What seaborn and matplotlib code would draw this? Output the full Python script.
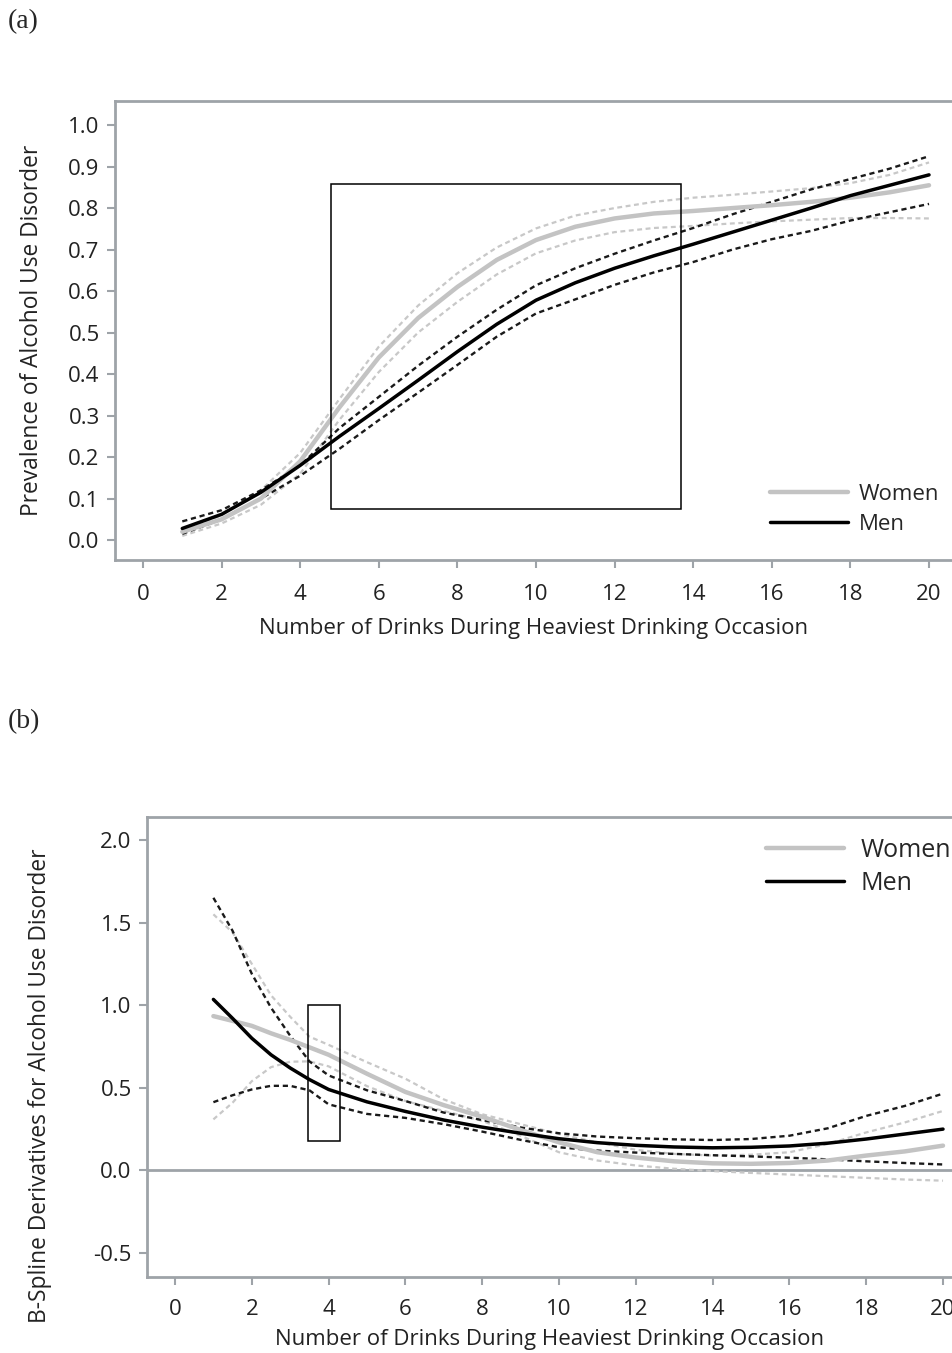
import numpy as np
import pandas as pd
import matplotlib
matplotlib.use("Agg")
import matplotlib.pyplot as plt
from matplotlib.patches import Rectangle
from matplotlib.lines import Line2D
import seaborn as sns

# ---------------- data: panel (a) ----------------
drinks_a = [1, 2, 3, 4, 5, 6, 7, 8, 9, 10, 11, 12, 13, 14, 15, 16, 17, 18, 19, 20]
women_a = [0.02, 0.05, 0.10, 0.19, 0.32, 0.44, 0.535, 0.61, 0.675, 0.723, 0.755, 0.775, 0.787,
           0.793, 0.80, 0.807, 0.815, 0.825, 0.838, 0.855]
women_a_hi = [0.025, 0.06, 0.12, 0.21, 0.34, 0.466, 0.565, 0.643, 0.705, 0.751, 0.782, 0.80, 0.815,
              0.825, 0.832, 0.84, 0.848, 0.86, 0.88, 0.91]
women_a_lo = [0.01, 0.04, 0.085, 0.16, 0.29, 0.405, 0.50, 0.574, 0.64, 0.691, 0.722, 0.742, 0.752,
              0.757, 0.763, 0.768, 0.772, 0.776, 0.776, 0.775]
men_a = [0.028, 0.062, 0.115, 0.18, 0.25, 0.317, 0.385, 0.454, 0.52, 0.578, 0.62, 0.655, 0.685,
         0.713, 0.742, 0.771, 0.80, 0.83, 0.855, 0.88]
men_a_hi = [0.045, 0.072, 0.12, 0.18, 0.27, 0.345, 0.42, 0.49, 0.555, 0.614, 0.655, 0.69, 0.722,
            0.752, 0.785, 0.815, 0.845, 0.87, 0.895, 0.925]
men_a_lo = [0.015, 0.05, 0.10, 0.155, 0.22, 0.289, 0.355, 0.422, 0.49, 0.546, 0.58, 0.615, 0.645,
            0.67, 0.70, 0.725, 0.745, 0.77, 0.79, 0.81]

# ---------------- data: panel (b) ----------------
drinks_b = [1, 1.5, 2, 2.5, 3, 3.5, 4, 5, 6, 7, 8, 9, 10, 11, 12, 13, 14, 15, 16, 17, 18, 19, 20]
women_b = [0.934, 0.905, 0.875, 0.83, 0.79, 0.745, 0.70, 0.585, 0.475, 0.395, 0.325, 0.245, 0.17,
           0.11, 0.078, 0.055, 0.043, 0.04, 0.045, 0.06, 0.09, 0.115, 0.15]
women_b_hi = [1.55, 1.44, 1.25, 1.06, 0.93, 0.81, 0.76, 0.655, 0.555, 0.43, 0.34, 0.28, 0.22,
              0.17, 0.125, 0.10, 0.09, 0.095, 0.11, 0.16, 0.23, 0.29, 0.36]
women_b_lo = [0.309, 0.41, 0.54, 0.625, 0.658, 0.66, 0.63, 0.51, 0.42, 0.36, 0.30, 0.21, 0.11,
              0.06, 0.03, 0.01, -0.004, -0.015, -0.025, -0.035, -0.045, -0.055, -0.062]
men_b = [1.035, 0.92, 0.80, 0.70, 0.62, 0.55, 0.49, 0.415, 0.357, 0.305, 0.262, 0.225, 0.192,
         0.168, 0.152, 0.142, 0.137, 0.14, 0.148, 0.165, 0.19, 0.22, 0.25]
men_b_hi = [1.65, 1.45, 1.19, 0.985, 0.815, 0.66, 0.575, 0.485, 0.42, 0.35, 0.305, 0.26, 0.225,
            0.205, 0.195, 0.188, 0.184, 0.19, 0.21, 0.255, 0.33, 0.39, 0.465]
men_b_lo = [0.413, 0.455, 0.49, 0.512, 0.512, 0.485, 0.40, 0.342, 0.318, 0.28, 0.235, 0.185, 0.14,
            0.12, 0.108, 0.10, 0.092, 0.085, 0.077, 0.067, 0.055, 0.045, 0.036]

rect_a = (4.78, 0.075, 13.68, 0.858)   # x0, y0, x1, y1
rect_b = (3.46, 0.176, 4.30, 0.999)

legend_labels = ["Women", "Men"]
xlabel = "Number of Drinks During Heaviest Drinking Occasion"
ylabel_a = "Prevalence of Alcohol Use Disorder"
ylabel_b = "B-Spline Derivatives for Alcohol Use Disorder"

# ---------------- style ----------------
sns.set_style("white")
plt.rcParams["font.family"] = ["Open Sans", "DejaVu Sans"]
SPINE = "#9ea3a8"
GRAY = "#c3c3c3"
GRAYD = "#c8c8c8"
BLACK = "#000000"
FS = 16

W, H = 953, 1353
fig = plt.figure(figsize=(W / 100, H / 100), dpi=100)


def px_axes(left, top, right, bottom):
    return fig.add_axes([left / W, 1 - bottom / H, (right - left) / W, (bottom - top) / H])


def draw_panel(ax, x, series, xlim, ylim, yticks, ylabel, rect, legend_anchor, legend_fs,
               ylabel_xy, tickpad, xlabelpad, lspacing, ltextpad):
    (w, whi, wlo, m, mhi, mlo) = series
    df = pd.DataFrame({"x": x, "w": w, "whi": whi, "wlo": wlo, "m": m, "mhi": mhi, "mlo": mlo})
    dash = (0, (2.2, 1.6))
    for col in ["whi", "wlo"]:
        sns.lineplot(data=df, x="x", y=col, ax=ax, color=GRAYD, lw=1.6, linestyle=dash, zorder=2)
    for col in ["mhi", "mlo"]:
        sns.lineplot(data=df, x="x", y=col, ax=ax, color="#1a1a1a", lw=1.7, linestyle=dash, zorder=3)
    sns.lineplot(data=df, x="x", y="w", ax=ax, color=GRAY, lw=3.2, zorder=4)
    sns.lineplot(data=df, x="x", y="m", ax=ax, color=BLACK, lw=2.5, zorder=5)

    x0, y0, x1, y1 = rect
    ax.add_patch(Rectangle((x0, y0), x1 - x0, y1 - y0, fill=False, ec="black", lw=1.1, zorder=6))

    ax.set_xlim(*xlim)
    ax.set_ylim(*ylim)
    ax.set_xticks(range(0, 21, 2))
    ax.set_yticks(yticks)
    ax.set_yticklabels([f"{t:.1f}" for t in yticks])
    ax.tick_params(axis="both", which="major", direction="out", length=6, width=1.5,
                   color=SPINE, labelsize=FS, labelcolor="#222222", pad=5, left=True, bottom=True)
    ax.tick_params(axis="x", pad=tickpad)
    for s in ["left", "bottom", "top"]:
        ax.spines[s].set_color(SPINE)
        ax.spines[s].set_linewidth(2)
    ax.spines["right"].set_visible(False)
    ax.set_xlabel(xlabel, fontsize=FS, color="#222222", labelpad=xlabelpad)
    ax.set_ylabel(ylabel, fontsize=16.4, color="#222222")
    ax.yaxis.set_label_coords(*ylabel_xy)

    handles = [Line2D([], [], color=GRAY, lw=3.2), Line2D([], [], color=BLACK, lw=2.5)]
    fig.legend(handles, legend_labels, loc="upper left",
               bbox_to_anchor=(legend_anchor[0] / W, 1 - legend_anchor[1] / H),
               bbox_transform=fig.transFigure, frameon=False, fontsize=legend_fs,
               handlelength=78 / (legend_fs * 100 / 72), handletextpad=ltextpad,
               labelspacing=lspacing, borderpad=0, borderaxespad=0)


# panel (a)
ax1 = px_axes(115, 101, 953, 560)
draw_panel(ax1, drinks_a, (women_a, women_a_hi, women_a_lo, men_a, men_a_hi, men_a_lo),
           (-0.712, 20.61), (-0.048, 1.058), [round(v * 0.1, 1) for v in range(11)],
           ylabel_a, rect_a, (770, 484), 16, (-0.085, 0.5), 11, 10, 0.4, 0.5)

# panel (b)
ax2 = px_axes(147, 817, 953, 1277)
draw_panel(ax2, drinks_b, (women_b, women_b_hi, women_b_lo, men_b, men_b_hi, men_b_lo),
           (-0.729, 20.26), (-0.645, 2.139), [-0.5, 0.0, 0.5, 1.0, 1.5, 2.0],
           ylabel_b, rect_b, (766, 838), 18, (-0.118, 0.415), 10, 6, 0.3, 0.65)
ax2.axhline(0, color=SPINE, lw=2, zorder=1)

# panel letters
fig.text(8 / W, 1 - 22 / H, "(a)", family=["Liberation Serif", "DejaVu Serif"], fontsize=20,
         va="center", ha="left")
fig.text(8 / W, 1 - 722 / H, "(b)", family=["Liberation Serif", "DejaVu Serif"], fontsize=20,
         va="center", ha="left")

fig.savefig("out.png", dpi=100)
